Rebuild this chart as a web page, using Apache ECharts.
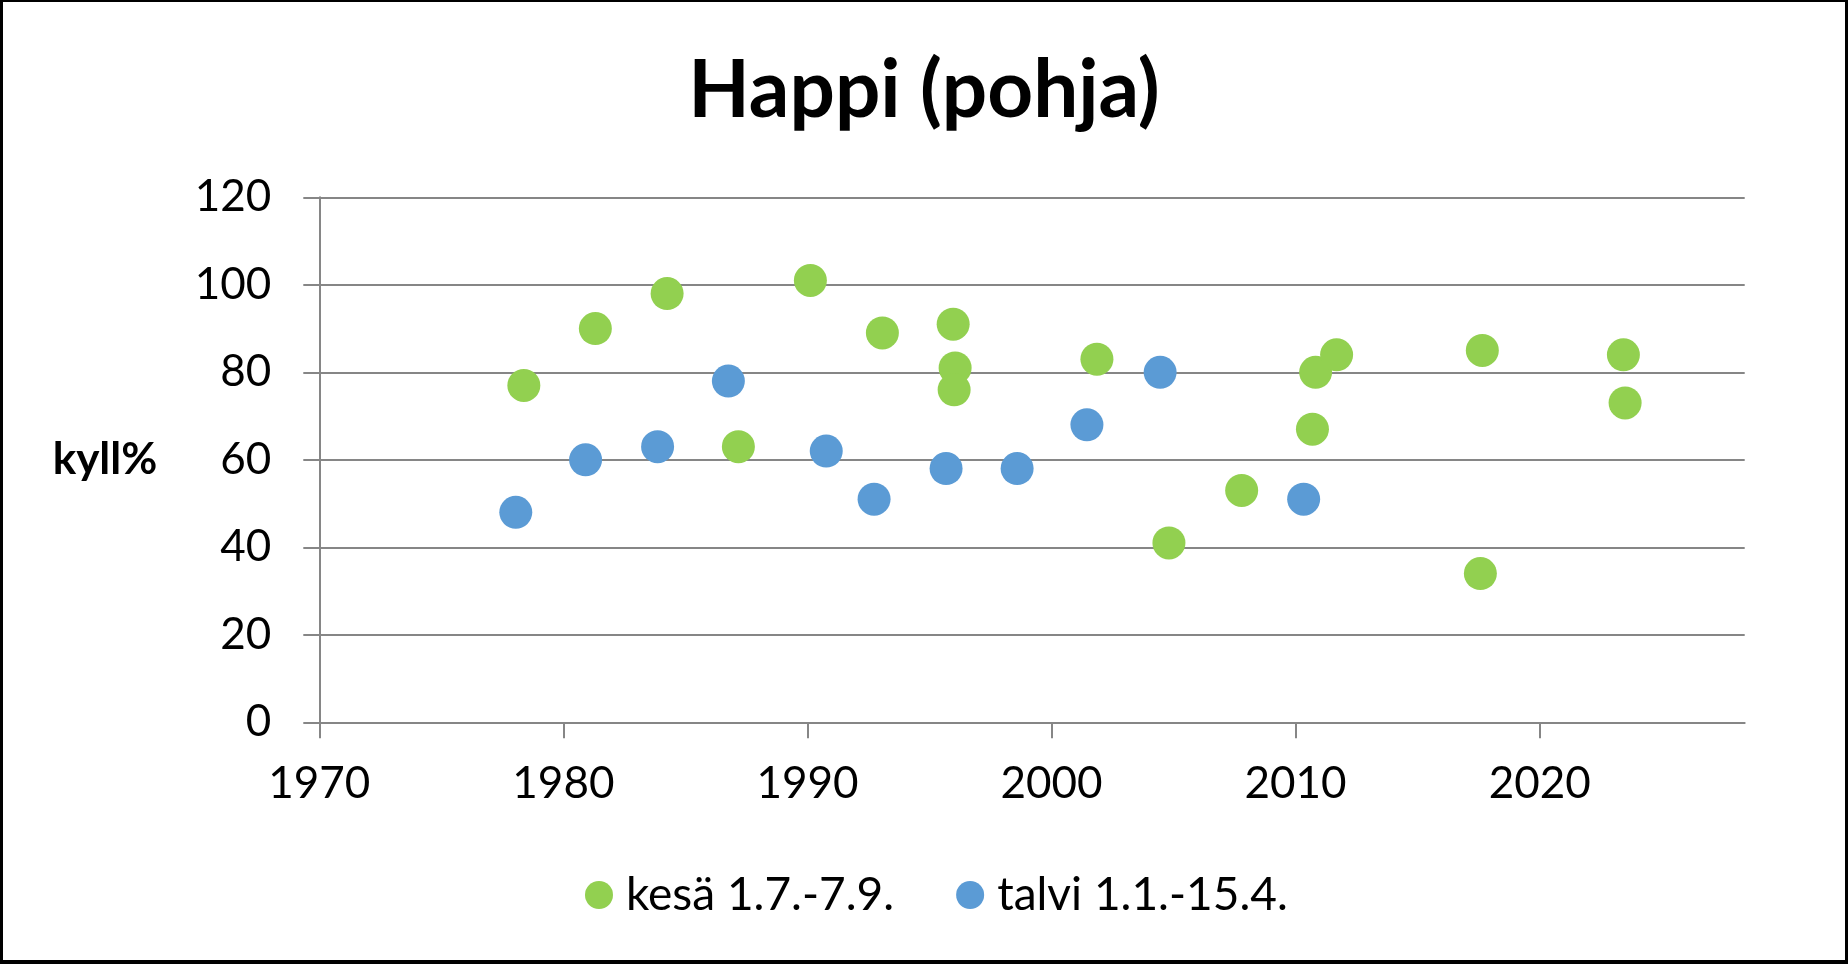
<!DOCTYPE html>
<html><head><meta charset="utf-8">
<script src="https://cdn.jsdelivr.net/npm/echarts@6/dist/echarts.min.js"></script>
<style>
html,body{margin:0;padding:0;background:#fff;}
#c{width:1848px;height:964px;}
#frame{position:absolute;left:0;top:0;width:1848px;height:964px;box-sizing:border-box;border:3px solid #000;border-top-width:2px;border-bottom-width:4px;pointer-events:none;}
</style></head><body>
<div id="c"></div><div id="frame"></div>
<script>
const titleText = 'Happi (pohja)';
const yAxisName = 'kyll%';
const seriesNames = ['kesä 1.7.-7.9.', 'talvi 1.1.-15.4.'];

const kesaYears  = [1978.38, 1981.31, 1984.25, 1987.17, 1990.12, 1993.07, 1995.97, 1996.05, 1996.01, 2001.86, 2004.81, 2007.79, 2010.69, 2010.82, 2011.68, 2017.65, 2017.57, 2023.43, 2023.50];
const kesaValues = [77, 90, 98, 63, 101, 89, 91, 81, 76, 83, 41, 53, 67, 80, 84, 85, 34, 84, 73];

const talviYears  = [1978.05, 1980.91, 1983.86, 1986.76, 1990.77, 1992.73, 1995.68, 1998.59, 2001.45, 2004.45, 2010.33];
const talviValues = [48, 60, 63, 78, 62, 51, 58, 58, 68, 80, 51];

const xTicks = [1970, 1980, 1990, 2000, 2010, 2020];
const yTicks = [0, 20, 40, 60, 80, 100, 120];

const zip = (xs, ys) => xs.map((x, i) => [x, ys[i]]);
const FONT = 'Lato';
const GRID_COLOR = '#868686';

const chart = echarts.init(document.getElementById('c'));
chart.setOption({
  animation: false,
  backgroundColor: '#fff',
  title: {
    text: titleText,
    left: 'center',
    top: 46,
    textStyle: { fontFamily: FONT, fontWeight: 'bold', fontSize: 80, color: '#000' }
  },
  legend: {
    left: 580,
    top: 866,
    icon: 'circle',
    itemWidth: 28,
    itemHeight: 28,
    itemGap: 62,
    textStyle: { fontFamily: FONT, fontSize: 46, color: '#000', lineHeight: 48, padding: [0, 0, 0, 8] },
    data: seriesNames
  },
  grid: { left: 319.3, top: 197.3, right: 103.3, bottom: 241.7, containLabel: false },
  xAxis: {
    type: 'value',
    min: xTicks[0],
    max: 2028.4,
    interval: 10,
    axisLine: { show: true, lineStyle: { color: GRID_COLOR, width: 2 } },
    axisTick: { show: true, length: 16, customValues: xTicks, lineStyle: { color: GRID_COLOR, width: 2 } },
    axisLabel: { customValues: xTicks, formatter: v => String(v), margin: 40, fontFamily: FONT, fontSize: 44, color: '#000' },
    splitLine: { show: false }
  },
  yAxis: {
    type: 'value',
    min: yTicks[0],
    max: yTicks[yTicks.length - 1],
    interval: 20,
    name: yAxisName,
    nameLocation: 'middle',
    nameRotate: 0,
    nameGap: 162,
    nameTextStyle: { fontFamily: FONT, fontWeight: 'bold', fontSize: 44, color: '#000' },
    axisLine: { show: true, lineStyle: { color: GRID_COLOR, width: 2 } },
    axisTick: { show: true, length: 16, lineStyle: { color: GRID_COLOR, width: 2 } },
    axisLabel: { margin: 48, fontFamily: FONT, fontSize: 44, color: '#000' },
    splitLine: { show: true, lineStyle: { color: GRID_COLOR, width: 2 } }
  },
  series: [
    { name: seriesNames[0], type: 'scatter', symbol: 'circle', symbolSize: 33,
      itemStyle: { color: '#92D050', opacity: 1 }, data: zip(kesaYears, kesaValues) },
    { name: seriesNames[1], type: 'scatter', symbol: 'circle', symbolSize: 33,
      itemStyle: { color: '#5B9BD5', opacity: 1 }, data: zip(talviYears, talviValues) }
  ]
});
</script>
</body></html>
